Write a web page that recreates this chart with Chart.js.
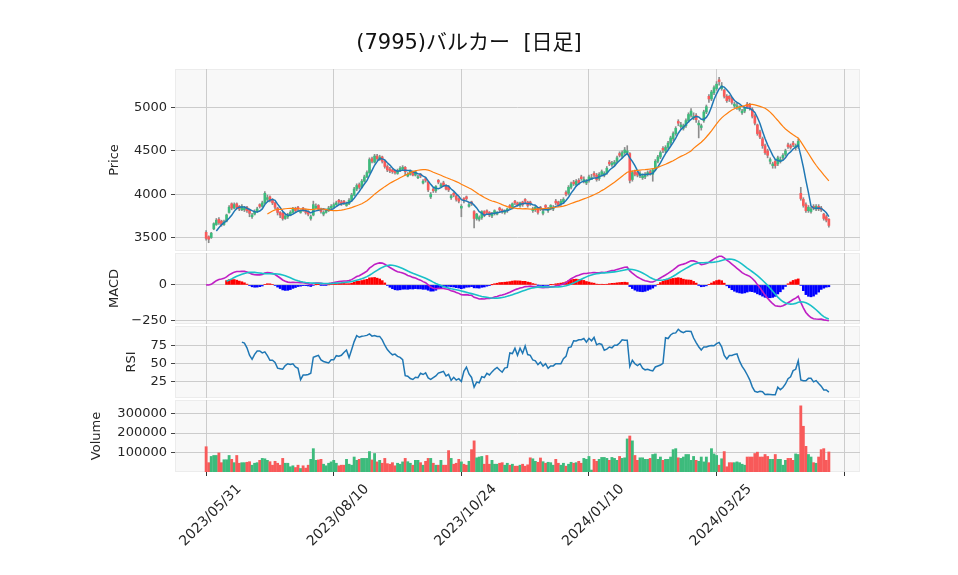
<!DOCTYPE html>
<html>
<head>
<meta charset="utf-8">
<script src="https://cdn.jsdelivr.net/npm/chart.js@4.4.0/dist/chart.umd.min.js"></script>
<style>
body{margin:0;background:#fff;}
#wrap{position:relative;width:958px;height:575px;}
canvas{position:absolute;left:0;top:0;}
</style>
</head>
<body>
<div id="wrap">
<canvas id="price" width="958" height="575"></canvas>
<canvas id="macd" width="958" height="575"></canvas>
<canvas id="rsi" width="958" height="575"></canvas>
<canvas id="vol" width="958" height="575"></canvas>
</div>
<script>
const TITLE = '(7995)バルカー  [日足]'
const tickIdx = [0, 50, 100, 150, 200, 250]
const tickLabels = ['2023/05/31', '2023/08/10', '2023/10/24', '2024/01/10', '2024/03/25', '']

const open = [
3560,3510,3500,3600,3650,3710,3690,3650,3690,3790,
3890,3840,3890,3860,3820,3820,3850,3820,3740,3770,
3800,3880,3860,3900,3940,3970,3940,3900,3840,3790,
3780,3720,3740,3760,3790,3830,3850,3790,3840,3810,
3800,3720,3760,3840,3870,3830,3770,3790,3810,3840,
3850,3880,3930,3910,3920,3870,3890,3930,3990,4060,
4110,4080,4150,4200,4250,4410,4370,4440,4400,4430,
4380,4320,4290,4280,4270,4240,4270,4290,4310,4210,
4230,4260,4220,4190,4230,4130,4180,4140,3970,4060,
4040,4160,4090,4130,4100,4080,3960,4010,3980,3950,
3840,3950,3970,3860,3910,3800,3720,3710,3730,3800,
3810,3790,3750,3780,3770,3840,3820,3790,3810,3870,
3850,3920,3900,3870,3910,3940,3910,3910,3810,3820,
3840,3850,3780,3870,3810,3830,3830,3920,3910,3890,
3910,4020,4010,4080,4140,4110,4160,4200,4150,4130,
4160,4170,4240,4220,4180,4230,4220,4250,4370,4340,
4350,4380,4470,4440,4480,4480,4470,4170,4260,4250,
4210,4190,4200,4230,4260,4230,4290,4380,4430,4530,
4500,4540,4590,4640,4700,4840,4780,4760,4790,4850,
4910,4880,4910,4800,4770,4850,4950,5130,5100,5170,
5220,5320,5220,5200,5130,5130,5100,5020,5000,4980,
4940,4960,5040,5030,4980,4900,4800,4720,4640,4560,
4500,4380,4330,4380,4350,4380,4420,4460,4570,4560,
4590,4540,4550,4010,3940,3880,3810,3800,3860,3830,
3860,3840,3770,3740,3710]
const high = [
3580,3520,3560,3670,3720,3730,3700,3700,3770,3870,
3900,3900,3900,3870,3880,3860,3860,3830,3780,3820,
3850,3890,3920,4030,3990,3980,3950,3910,3850,3800,
3790,3770,3780,3810,3850,3850,3860,3820,3850,3830,
3810,3760,3920,3890,3880,3840,3810,3830,3860,3880,
3900,3920,3940,3930,3930,3910,3950,4010,4080,4120,
4130,4170,4220,4270,4420,4430,4460,4460,4450,4440,
4390,4340,4310,4290,4280,4290,4320,4330,4320,4250,
4280,4270,4270,4220,4240,4170,4190,4150,4020,4070,
4100,4170,4130,4150,4110,4100,4000,4020,3990,3960,
3880,3960,3980,3900,3920,3810,3780,3750,3810,3810,
3820,3800,3790,3820,3800,3850,3830,3820,3840,3880,
3900,3930,3910,3910,3920,3950,3920,3920,3850,3860,
3850,3860,3820,3880,3850,3880,3870,3940,3920,3940,
3960,4040,4100,4140,4160,4170,4180,4220,4200,4170,
4220,4230,4260,4240,4250,4280,4260,4320,4390,4380,
4390,4440,4490,4500,4540,4560,4480,4270,4280,4270,
4260,4230,4250,4270,4280,4290,4400,4450,4500,4550,
4560,4610,4670,4720,4780,4860,4830,4810,4870,4940,
4990,4940,4930,4850,4810,4970,5030,5150,5200,5250,
5300,5350,5290,5210,5150,5140,5120,5060,5050,5020,
4980,5010,5060,5050,5000,4920,4810,4740,4660,4580,
4520,4420,4370,4400,4440,4430,4470,4520,4590,4580,
4610,4580,4640,4080,3960,3900,3870,3850,3880,3880,
3880,3860,3780,3760,3720]
const low = [
3470,3440,3490,3590,3640,3650,3630,3640,3680,3780,
3820,3830,3830,3810,3810,3800,3790,3740,3720,3760,
3790,3840,3850,3890,3920,3910,3880,3830,3760,3730,
3700,3710,3720,3750,3780,3790,3810,3780,3800,3770,
3750,3700,3750,3830,3810,3780,3750,3780,3800,3830,
3840,3870,3890,3870,3880,3860,3880,3920,3980,4040,
4060,4070,4140,4190,4240,4360,4360,4390,4390,4360,
4300,4260,4250,4240,4230,4230,4260,4280,4220,4200,
4220,4210,4210,4180,4190,4120,4140,4030,3950,4020,
4020,4120,4080,4090,4050,4030,3940,3970,3920,3900,
3740,3900,3930,3850,3870,3610,3700,3690,3710,3740,
3770,3740,3730,3760,3760,3800,3780,3770,3790,3830,
3830,3880,3860,3850,3860,3900,3850,3870,3790,3800,
3770,3810,3760,3830,3790,3820,3810,3880,3860,3870,
3890,3980,3990,4060,4100,4090,4110,4160,4130,4110,
4140,4170,4200,4150,4160,4210,4200,4230,4330,4320,
4330,4360,4430,4420,4460,4460,4130,4150,4210,4200,
4190,4170,4180,4210,4220,4150,4270,4360,4410,4480,
4480,4520,4570,4620,4680,4790,4760,4740,4770,4830,
4890,4860,4830,4650,4740,4830,4930,5060,5080,5150,
5200,5260,5200,5110,5060,5070,5040,5000,4980,4960,
4920,4940,4990,4970,4880,4800,4680,4640,4530,4460,
4420,4350,4300,4300,4330,4360,4400,4440,4530,4520,
4550,4510,4530,3930,3850,3790,3790,3780,3820,3810,
3810,3800,3700,3680,3620]
const close = [
3490,3480,3550,3660,3700,3670,3650,3680,3760,3850,
3840,3880,3850,3830,3860,3840,3810,3780,3760,3800,
3830,3860,3900,4010,3960,3930,3900,3850,3790,3760,
3720,3750,3760,3790,3830,3810,3830,3800,3820,3790,
3770,3740,3880,3860,3830,3800,3790,3810,3840,3860,
3880,3900,3910,3890,3900,3890,3930,3990,4060,4100,
4080,4150,4200,4250,4400,4380,4440,4410,4430,4380,
4320,4280,4270,4260,4250,4270,4300,4310,4260,4230,
4270,4220,4260,4200,4210,4150,4160,4050,4000,4040,
4090,4140,4110,4100,4060,4050,3980,3990,3940,3920,
3860,3930,3950,3880,3890,3720,3770,3730,3800,3760,
3790,3760,3780,3810,3790,3820,3800,3810,3830,3850,
3890,3900,3880,3900,3880,3920,3870,3890,3830,3850,
3790,3830,3800,3850,3830,3870,3850,3900,3880,3920,
3940,4000,4080,4120,4120,4150,4130,4180,4170,4150,
4200,4190,4220,4170,4230,4260,4240,4300,4350,4360,
4370,4420,4450,4480,4510,4500,4160,4250,4230,4220,
4240,4210,4230,4250,4240,4280,4380,4430,4480,4510,
4540,4590,4650,4700,4760,4820,4800,4790,4850,4920,
4960,4900,4860,4820,4790,4950,5010,5100,5180,5230,
5270,5300,5250,5130,5080,5100,5060,5040,5020,5000,
4960,4990,5010,5000,4900,4820,4700,4660,4560,4480,
4450,4400,4350,4330,4420,4400,4450,4500,4550,4540,
4570,4560,4610,3950,3870,3810,3850,3830,3840,3860,
3830,3820,3720,3700,3640]
const volume = [
130000,48000,80000,85000,85000,98000,48000,63000,63000,85000,
65000,48000,85000,45000,48000,48000,50000,53000,35000,45000,
48000,60000,70000,68000,60000,53000,35000,55000,45000,35000,
70000,45000,45000,27000,32000,23000,35000,18000,32000,20000,
35000,65000,120000,60000,62000,65000,40000,32000,45000,52000,
60000,45000,32000,35000,35000,65000,40000,35000,77000,60000,
65000,70000,70000,70000,105000,62000,95000,52000,60000,45000,
70000,43000,40000,48000,32000,45000,40000,52000,70000,53000,
45000,35000,60000,60000,48000,35000,55000,70000,70000,45000,
35000,35000,60000,35000,35000,110000,70000,40000,45000,65000,
52000,40000,35000,55000,115000,160000,73000,77000,80000,40000,
85000,40000,60000,40000,40000,45000,48000,35000,45000,35000,
40000,30000,30000,35000,40000,30000,37000,73000,68000,55000,
50000,72000,53000,45000,50000,48000,35000,65000,45000,35000,
45000,30000,40000,50000,45000,48000,55000,45000,70000,65000,
80000,10000,65000,55000,65000,75000,75000,70000,60000,75000,
70000,60000,80000,70000,73000,170000,185000,160000,85000,60000,
73000,73000,65000,65000,70000,90000,93000,65000,77000,60000,
65000,65000,77000,115000,120000,73000,70000,77000,90000,90000,
60000,80000,60000,55000,77000,52000,77000,48000,120000,93000,
85000,35000,68000,105000,27000,48000,48000,48000,52000,48000,
40000,35000,77000,77000,77000,95000,102000,77000,77000,90000,
80000,65000,65000,90000,65000,65000,35000,60000,70000,70000,
60000,93000,90000,340000,235000,132000,90000,77000,48000,45000,
77000,115000,120000,60000,103000]

const FONT = '"DejaVu Sans", "Noto Sans CJK JP", sans-serif'
Chart.defaults.font.family = FONT
Chart.defaults.font.size = 13
Chart.defaults.color = '#262626'

const UP = '#3dbb7c', DOWN = '#f85a5a'
const LEFT = 175, RIGHT = 860

// indicators from the closes
function sma(a, n) {
  return a.map((v, i) => i < n - 1 ? null : a.slice(i - n + 1, i + 1).reduce((s, x) => s + x, 0) / n)
}
function ema(a, n) {
  const k = 2 / (n + 1)
  let e = a[0]
  return a.map((v, i) => (e = i === 0 ? v : v * k + e * (1 - k)))
}
const ma5 = sma(close, 5)
const ma25 = sma(close, 25)
const e12 = ema(close, 12), e26 = ema(close, 26)
const macd = e12.map((v, i) => v - e26[i])
const signal = sma(macd, 9)
const hist = macd.map((v, i) => signal[i] === null ? null : v - signal[i])
const rsi = close.map((c, i) => {
  if (i < 14) return null
  let g = 0, l = 0
  for (let j = i - 13; j <= i; j++) {
    const d = close[j] - close[j - 1]
    if (d > 0) g += d; else l -= d
  }
  return l === 0 ? 100 : 100 - 100 / (1 + g / l)
})

const pts = a => a.map((v, i) => ({x: i, y: v}))
const isUp = close.map((c, i) => c >= open[i])
function padRange(arrs) {
  const v = [].concat(...arrs).filter(x => x !== null)
  const mn = Math.min(...v), mx = Math.max(...v), d = (mx - mn) * 0.05
  return [mn - d, mx + d]
}

const panelBg = {
  id: 'panelBg',
  beforeDraw(c) {
    const a = c.chartArea, ctx = c.ctx
    ctx.save()
    ctx.fillStyle = '#f8f8f8'
    ctx.fillRect(a.left, a.top, a.right - a.left, a.bottom - a.top)
    ctx.strokeStyle = '#ececec'
    ctx.lineWidth = 1
    ctx.strokeRect(a.left + 0.5, a.top + 0.5, a.right - a.left - 1, a.bottom - a.top - 1)
    ctx.restore()
  }
}
const titlePlugin = {
  id: 'titleText',
  afterDraw(c) {
    const ctx = c.ctx
    ctx.save()
    ctx.font = '21px ' + FONT
    ctx.fillStyle = '#111'
    ctx.textAlign = 'center'
    ctx.textBaseline = 'middle'
    ctx.fillText(TITLE, 469, 44)
    ctx.restore()
  }
}

function xScale(labels) {
  return {
    type: 'linear', min: -12.2, max: 256.2, offset: false,
    grid: {color: '#cccccc', offset: false, drawTicks: labels, tickLength: 4, tickColor: '#333'},
    border: {display: false},
    afterBuildTicks: s => { s.ticks = tickIdx.map(v => ({value: v})) },
    ticks: {
      display: labels, autoSkip: false, minRotation: 45, maxRotation: 45,
      labelOffset: 33, padding: 5, color: '#262626', font: {size: 14},
      callback: v => tickLabels[tickIdx.indexOf(v)]
    },
    afterFit: s => { s.height = labels ? 100 : 0 }
  }
}
function yScale(range, ticks, fmt, title) {
  return {
    position: 'left', min: range[0], max: range[1],
    grid: {color: '#cccccc', tickLength: 4, tickColor: '#444'},
    border: {display: false},
    afterBuildTicks: s => { s.ticks = ticks.filter(v => v >= range[0] && v <= range[1]).map(v => ({value: v})) },
    ticks: {padding: 4, color: '#262626', callback: fmt},
    title: {display: true, text: title, padding: 0, color: '#262626'}
  }
}
function panel(id, top, bottom, titleX, labels, y, datasets, plugins) {
  const padLeft = titleX - 7.8
  y.afterFit = s => { s.width = LEFT - padLeft }
  return new Chart(document.getElementById(id), {
    type: 'bar',
    data: {datasets},
    options: {
      responsive: false, animation: false, events: [],
      layout: {padding: {left: padLeft, right: 958 - RIGHT, top: top, bottom: labels ? 575 - bottom - 100 : 575 - bottom}},
      plugins: {legend: {display: false}, tooltip: {enabled: false}},
      scales: {x: xScale(labels), y: y}
    },
    plugins: [panelBg].concat(plugins || [])
  })
}
const lineDs = (data, color, w, order) => ({
  type: 'line', data: pts(data), borderColor: color, borderWidth: w,
  pointRadius: 0, tension: 0, spanGaps: false, order: order
})

// price
panel('price', 69, 251, 115, false,
  yScale(padRange([low, high]), [3500, 4000, 4500, 5000], v => String(v), 'Price'),
  [
    {data: close.map((c, i) => ({x: i, y: [low[i], high[i]]})), backgroundColor: '#8c8c8c',
      barThickness: 1, grouped: false, order: 3},
    {data: close.map((c, i) => ({x: i, y: [open[i], c]})), backgroundColor: isUp.map(u => u ? UP : DOWN),
      barThickness: 2, minBarLength: 1, grouped: false, order: 2},
    lineDs(ma5, '#1f77b4', 1.5, 1),
    lineDs(ma25, '#ff7f0e', 1.2, 0)
  ], [titlePlugin])

// MACD
panel('macd', 253, 324, 115, false,
  yScale(padRange([macd, signal, hist]), [-500, -250, 0, 250, 500], v => v < 0 ? '\u2212' + Math.abs(v) : String(v), 'MACD'),
  [
    {data: pts(hist), backgroundColor: hist.map(h => h !== null && h >= 0 ? '#ff0000' : '#0000ff'),
      barThickness: 2, grouped: false, order: 3},
    lineDs(macd, '#bf1fc4', 1.6, 1),
    lineDs(signal, '#19c0c8', 1.6, 0)
  ])

// RSI
panel('rsi', 326, 398, 132, false,
  yScale(padRange([rsi]), [25, 50, 75], v => String(v), 'RSI'),
  [lineDs(rsi, '#1f77b4', 1.5, 0)])

// Volume
panel('vol', 400, 472, 97, true,
  yScale([0, 370000], [100000, 200000, 300000], v => String(v), 'Volume'),
  [
    {data: pts(volume), backgroundColor: isUp.map(u => u ? UP : DOWN),
      barThickness: 2.2, grouped: false, order: 0}
  ])
</script>
</body>
</html>
